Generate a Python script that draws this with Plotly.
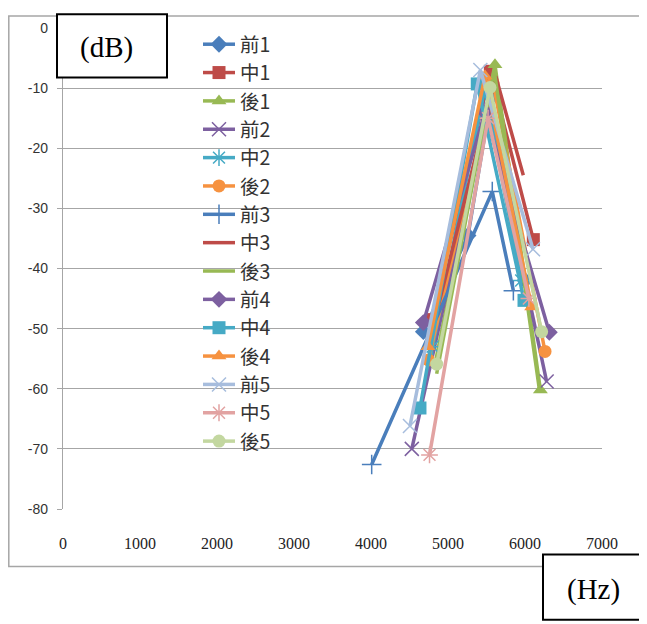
import plotly.graph_objects as go

# ---- data (Hz, dB) ----
names = ["前1", "中1", "後1", "前2", "中2", "後2", "前3", "中3", "後3",
         "前4", "中4", "後4", "前5", "中5", "後5"]

x_qian1 = [4680, 5260, 5560, 6000]
y_qian1 = [-50.5, -34.5, -11.5, -42.0]
x_zhong1 = [4790, 5550, 6108]
y_zhong1 = [-48.5, -7.2, -35.2]
x_hou1 = [4830, 5610, 6200]
y_hou1 = [-56.0, -6.1, -60.2]
x_qian2 = [4530, 5520, 6281]
y_qian2 = [-70.0, -13.0, -58.8]
x_zhong2 = [4800, 5480, 5950]
y_zhong2 = [-53.0, -10.0, -42.0]
x_hou2 = [4745, 5584, 6260]
y_hou2 = [-55.2, -9.1, -53.8]
x_qian3 = [4009, 5575, 5849]
y_qian3 = [-72.6, -27.2, -43.7]
x_zhong3 = [4800, 5620, 5978]
y_zhong3 = [-50.0, -8.0, -24.5]
x_hou3 = [4853, 5600, 6190]
y_hou3 = [-57.5, -7.0, -60.4]
x_qian4 = [4680, 5480, 6316]
y_qian4 = [-49.0, -14.0, -50.6]
x_zhong4 = [4636, 5380, 5987]
y_zhong4 = [-63.2, -9.3, -45.3]
x_hou4 = [4740, 5481, 6086]
y_hou4 = [-53.0, -8.0, -46.4]
x_qian5 = [4506, 5420, 6104]
y_qian5 = [-66.2, -7.0, -36.8]
x_zhong5 = [4760, 5520, 6050]
y_zhong5 = [-71.0, -15.0, -45.0]
x_hou5 = [4853, 5545, 6216]
y_hou5 = [-55.9, -9.9, -50.5]

xs = [x_qian1, x_zhong1, x_hou1, x_qian2, x_zhong2, x_hou2, x_qian3, x_zhong3, x_hou3,
      x_qian4, x_zhong4, x_hou4, x_qian5, x_zhong5, x_hou5]
ys = [y_qian1, y_zhong1, y_hou1, y_qian2, y_zhong2, y_hou2, y_qian3, y_zhong3, y_hou3,
      y_qian4, y_zhong4, y_hou4, y_qian5, y_zhong5, y_hou5]

x_ticks = [0, 1000, 2000, 3000, 4000, 5000, 6000, 7000]
y_ticks = [0, -10, -20, -30, -40, -50, -60, -70, -80]

# ---- styles ----
colors = ["#4A7EBB", "#BE4B48", "#98B954", "#7D60A0", "#46AAC5", "#F69240",
          "#4A7EBB", "#BE4B48", "#98B954", "#7D60A0", "#46AAC5", "#F69240",
          "#A7BDDD", "#E2A3A2", "#C3D7A0"]
symbols = ["diamond", "square", "triangle-up", "x-thin", "asterisk", "circle",
           "cross-thin", None, None, "diamond", "square", "triangle-up",
           "x-thin", "asterisk", "circle"]

fig = go.Figure()
for n, xv, yv, c, s in zip(names, xs, ys, colors, symbols):
    if s is None:
        fig.add_trace(go.Scatter(x=xv, y=yv, name=n, mode="lines",
                                 line=dict(color=c, width=3.5)))
    else:
        thin = s in ("x-thin", "asterisk", "cross-thin")
        fig.add_trace(go.Scatter(
            x=xv, y=yv, name=n, mode="lines+markers",
            line=dict(color=c, width=3.5),
            marker=dict(symbol=s, size=13 if not thin else 14, color=c,
                        line=dict(color=c, width=1.5 if thin else 0))))

# page offset (body margin) compensation
OFF = 8
FW, FH = 647 - OFF, 624 - OFF
L, T, W, H = 63 - OFF, 23 - OFF, 539, 486


def px_x(p):  # page pixel -> paper
    return (p - OFF - L) / W


def px_y(p):
    return (T + H - (p - OFF)) / H


shapes = [
    dict(type="rect", xref="paper", yref="paper",
         x0=px_x(8.8), x1=px_x(652), y0=px_y(567), y1=px_y(11),
         line=dict(color="#A6A6A6", width=1.5), fillcolor="rgba(0,0,0,0)", layer="below"),
    dict(type="rect", xref="paper", yref="paper",
         x0=px_x(57), x1=px_x(167), y0=px_y(73), y1=px_y(9),
         line=dict(color="black", width=2), fillcolor="white"),
    dict(type="rect", xref="paper", yref="paper",
         x0=px_x(543), x1=px_x(645), y0=px_y(621), y1=px_y(555),
         line=dict(color="black", width=2), fillcolor="white"),
]
annotations = [
    dict(text="(dB)", xref="paper", yref="paper", x=px_x(106), y=px_y(43),
         xanchor="center", yanchor="middle", showarrow=False,
         font=dict(family="Liberation Serif", size=29, color="black")),
    dict(text="(Hz)", xref="paper", yref="paper", x=px_x(593), y=px_y(590),
         xanchor="center", yanchor="middle", showarrow=False,
         font=dict(family="Liberation Serif", size=29, color="black")),
]

fig.update_layout(
    width=FW, height=FH,
    margin=dict(l=L, r=FW - L - W, t=T, b=FH - T - H),
    paper_bgcolor="white", plot_bgcolor="white",
    showlegend=True,
    legend=dict(x=px_x(198), y=px_y(20), xanchor="left", yanchor="top",
                bgcolor="rgba(0,0,0,0)", itemwidth=32, maxheight=600,
                font=dict(family="Noto Sans CJK TC", size=19.5, color="#333333"),
                tracegroupgap=0),
    xaxis=dict(range=[0, 7000], tickvals=x_ticks, ticktext=[str(v) for v in x_ticks],
               showgrid=False, zeroline=False, showline=False, ticks="",
               tickfont=dict(family="Liberation Serif", size=16, color="#222222"),
               ticklabelstandoff=23),
    yaxis=dict(range=[-80, 0], tickvals=y_ticks, ticktext=[str(v) for v in y_ticks],
               showgrid=True, gridcolor="#A6A6A6", gridwidth=1.3,
               zeroline=False, showline=True, linecolor="#A6A6A6", linewidth=1.3,
               ticks="outside", ticklen=5, tickcolor="#A6A6A6",
               tickfont=dict(family="Liberation Sans", size=14, color="#333333"),
               ticklabelstandoff=6),
    shapes=shapes, annotations=annotations,
)

fig.write_html("out.html")
